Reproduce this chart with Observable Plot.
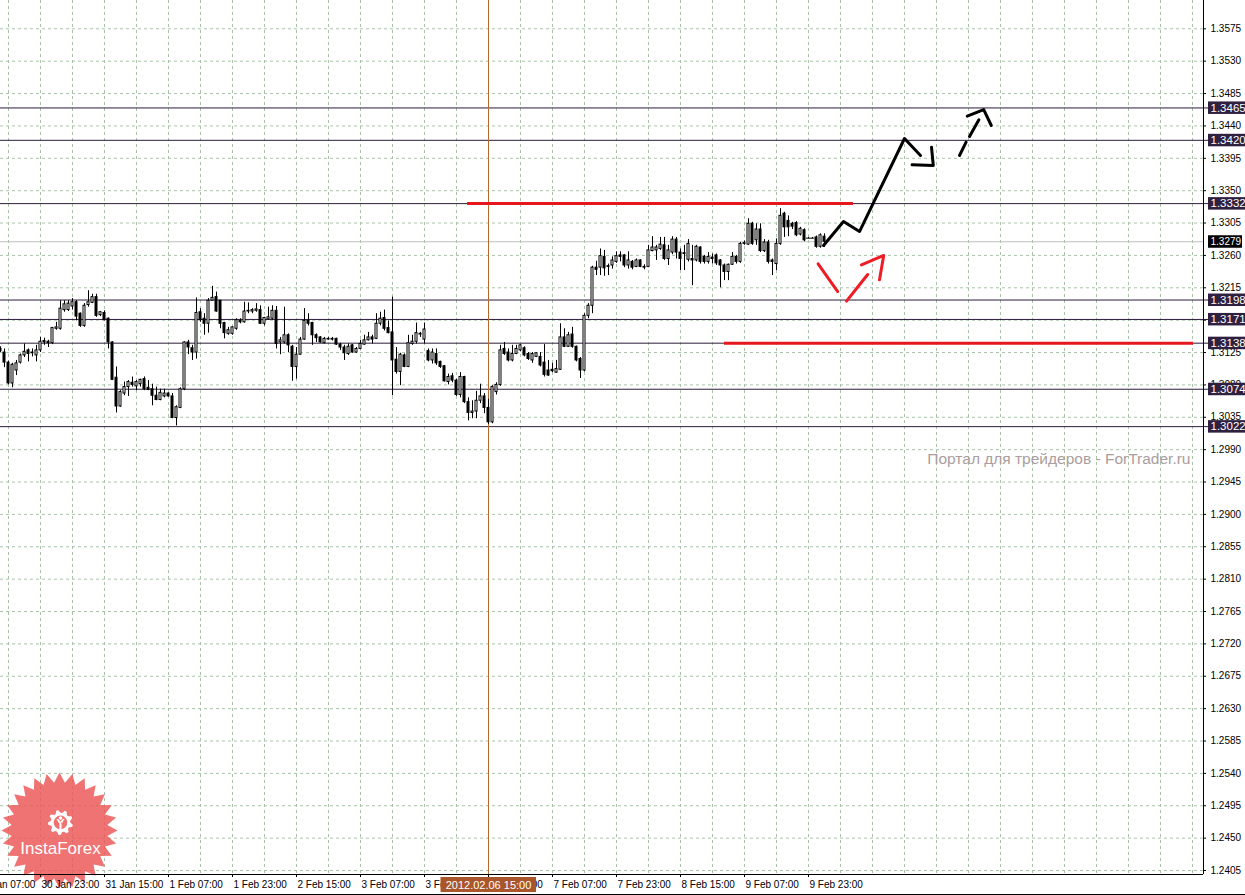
<!DOCTYPE html>
<html><head><meta charset="utf-8">
<script src="https://cdn.jsdelivr.net/npm/d3@7"></script>
<script src="https://cdn.jsdelivr.net/npm/@observablehq/plot@0.6"></script>
<style>html,body{margin:0;padding:0;background:#fff;overflow:hidden}#chart svg{display:block}</style>
</head><body><div id="chart"></div>
<script>
// ---- Data (EURUSD H1, prices in pips = price*10000), first candle index -10 (30 Jan 13:00) ----
const firstIndex = -10;
const openP = [13130,13125,13111,13082,13100,13111,13121,13128,13124,13121,
13128,13141,13140,13138,13158,13158,13184,13184,13189,13195,13179,13162,13191,13194,13202,13177,13180,13172,13139,13090,
13050,13068,13077,13083,13078,13081,13088,13076,13074,13065,13059,13064,13068,13064,13034,13048,13074,13139,13131,13125,
13181,13172,13165,13197,13202,13197,13166,13151,13151,13158,13169,13167,13182,13182,13183,13184,13165,13171,13172,13183,
13139,13139,13149,13133,13105,13122,13143,13169,13166,13149,13146,13138,13143,13144,13144,13136,13132,13123,13135,13125,
13130,13136,13142,13146,13144,13165,13173,13159,13153,13115,13098,13121,13105,13137,13140,13150,13143,13127,13114,13123,
13112,13106,13084,13092,13086,13066,13091,13056,13041,13043,13058,13064,13048,13028,13070,13080,13130,13125,13114,13123,
13128,13131,13123,13114,13119,13119,13111,13100,13101,13097,13101,13146,13133,13150,13133,13116,13100,13176,13190,13243,
13243,13258,13245,13246,13251,13260,13260,13246,13251,13244,13253,13244,13244,13266,13267,13269,13274,13255,13264,13282,
13264,13263,13254,13255,13253,13271,13258,13251,13257,13260,13253,13246,13237,13247,13258,13251,13276,13275,13304,13281,
13296,13266,13278,13253,13248,13276,13318,13308,13304,13305,13289,13295,13284,13284,13285,13272,13286];
const highP = [13133,13130,13113,13110,13114,13123,13137,13130,13130,13135,
13146,13145,13142,13160,13167,13197,13197,13197,13200,13197,13180,13193,13211,13206,13206,13182,13183,13173,13140,13105,
13072,13084,13086,13091,13086,13088,13091,13086,13081,13077,13074,13074,13069,13068,13051,13076,13140,13142,13135,13201,
13186,13179,13200,13217,13209,13197,13167,13160,13161,13172,13172,13195,13194,13186,13193,13190,13174,13188,13190,13189,
13146,13188,13151,13135,13132,13146,13186,13179,13167,13151,13147,13146,13146,13146,13145,13138,13135,13137,13136,13132,
13142,13149,13153,13149,13179,13181,13184,13169,13202,13132,13124,13123,13149,13149,13166,13153,13166,13130,13130,13130,
13113,13107,13095,13096,13088,13097,13092,13062,13058,13071,13081,13068,13060,13079,13083,13135,13139,13130,13135,13135,
13136,13133,13125,13125,13125,13125,13136,13114,13110,13114,13165,13158,13153,13160,13134,13118,13179,13193,13245,13252,
13269,13267,13248,13258,13265,13265,13261,13265,13253,13255,13254,13247,13274,13286,13274,13285,13285,13274,13286,13285,
13269,13274,13282,13274,13274,13272,13260,13264,13262,13262,13254,13248,13248,13264,13260,13278,13280,13311,13306,13304,
13304,13282,13281,13255,13283,13325,13320,13315,13306,13307,13299,13297,13285,13285,13287,13290,13290];
const lowP = [13125,13104,13080,13076,13093,13109,13118,13112,13119,13112,
13125,13135,13132,13136,13156,13156,13181,13182,13184,13169,13160,13160,13188,13193,13174,13175,13169,13130,13086,13041,
13049,13065,13064,13077,13072,13077,13072,13072,13051,13058,13058,13062,13063,13033,13023,13047,13072,13122,13114,13116,
13167,13149,13152,13197,13181,13158,13144,13149,13149,13156,13165,13166,13179,13179,13181,13164,13162,13170,13170,13130,
13122,13137,13125,13085,13088,13121,13142,13162,13135,13139,13138,13137,13142,13141,13135,13128,13114,13121,13124,13124,
13129,13135,13141,13137,13143,13162,13155,13151,13065,13095,13079,13104,13104,13135,13137,13146,13137,13112,13109,13107,
13103,13084,13080,13083,13064,13062,13054,13030,13033,13033,13054,13040,13025,13026,13066,13078,13121,13112,13112,13122,
13126,13119,13114,13110,13118,13105,13091,13092,13097,13096,13100,13132,13132,13131,13112,13089,13098,13172,13179,13232,
13232,13231,13232,13241,13249,13251,13243,13241,13240,13243,13243,13240,13243,13265,13253,13267,13253,13246,13261,13255,
13239,13239,13251,13218,13251,13248,13248,13248,13248,13246,13215,13225,13225,13246,13248,13249,13274,13274,13274,13274,
13264,13264,13248,13232,13239,13274,13285,13286,13296,13286,13287,13279,13283,13283,13270,13270,13271];
const closeP = [13127,13111,13082,13108,13110,13121,13126,13123,13125,13128,
13140,13139,13138,13159,13160,13186,13192,13193,13195,13175,13162,13190,13195,13202,13176,13181,13170,13139,13087,13050,
13070,13077,13084,13080,13084,13087,13074,13073,13065,13059,13069,13068,13064,13034,13049,13074,13139,13132,13125,13180,
13170,13165,13197,13201,13182,13165,13152,13156,13160,13170,13167,13182,13183,13184,13185,13165,13173,13174,13183,13137,
13142,13149,13135,13105,13122,13143,13169,13165,13149,13145,13139,13144,13144,13143,13136,13132,13124,13133,13125,13130,
13137,13142,13146,13143,13165,13172,13158,13152,13114,13098,13122,13105,13138,13140,13152,13151,13157,13114,13125,13110,
13105,13085,13091,13086,13066,13091,13056,13041,13043,13058,13064,13048,13028,13077,13080,13128,13123,13114,13123,13130,
13135,13121,13116,13123,13124,13107,13094,13093,13099,13102,13146,13133,13149,13133,13114,13100,13176,13190,13243,13240,
13259,13242,13244,13253,13259,13258,13246,13253,13243,13253,13244,13243,13267,13271,13271,13275,13255,13267,13282,13264,
13255,13262,13276,13253,13272,13251,13251,13258,13255,13249,13246,13237,13247,13258,13251,13276,13277,13304,13276,13296,
13266,13278,13251,13251,13276,13315,13299,13299,13300,13288,13297,13281,13284,13284,13272,13288,13279];

// axis ticks
const xTickIndex = [-16,0,16,32,48,64,80,96,112,128,144,160,176,192];
const xTickLabels = ["30 Jan 07:00","30 Jan 23:00","31 Jan 15:00","1 Feb 07:00","1 Feb 23:00","2 Feb 15:00","3 Feb 07:00","3 Feb 23:00","6 Feb 15:00","7 Feb 07:00","7 Feb 23:00","8 Feb 15:00","9 Feb 07:00","9 Feb 23:00"];
const yTickLabels = ["1.2405","1.2450","1.2495","1.2540","1.2585","1.2630","1.2675","1.2720","1.2765","1.2810","1.2855","1.2900","1.2945","1.2990","1.3035","1.3080","1.3125","1.3170","1.3215","1.3260","1.3305","1.3350","1.3395","1.3440","1.3485","1.3530","1.3575"];
const gridIndex = d3.range(-8, 290, 8);

// horizontal levels
const levels = [1.3465, 1.3420, 1.3332, 1.3198, 1.3171, 1.3138, 1.3074, 1.3022];
const currentPrice = 1.3279;
const crosshairIndex = 112;
const crosshairLabel = "2012.02.06 15:00";

// red support/resistance strokes
const redLevels = [1.3332, 1.3138];
const redFrom = [106.75, 171];
const redTo = [203.25, 288.25];

// hand-drawn forecast (index, price)
const blackSeg = ["a","a","a","a","a","b","b","b","c","c","d","d","e","e","e"];
const blackIdx = [195.75,200.75,204.75,216,220, 217.9,223.2,222.75, 229.75,231.4, 232.25,234.6, 231.7,235.8,237.7];
const blackPrice = [1.32738,1.33071,1.32932,1.34225,1.33989, 1.33860,1.33850,1.34104, 1.33989,1.34174, 1.34253,1.34485, 1.34535,1.34628,1.34406];
const redSeg = ["a","a","b","b","c","c","c"];
const redIdx = [194.4,199.3, 201.5,206.8, 205.25,210.8,209.75];
const redPrice = [1.32483,1.32098, 1.31964,1.32335, 1.32469,1.32599,1.32261];

const watermark = "Портал для трейдеров - ForTrader.ru";
const logoText = "InstaForex";

// ---- build tables ----
const candles = openP.map((o, k) => ({i: firstIndex + k, o: o/1e4, h: highP[k]/1e4, l: lowP[k]/1e4, c: closeP[k]/1e4}));
const bodies = candles.filter(d => d.o !== d.c);
const dojis = candles.filter(d => d.o === d.c);
const xTicks = xTickIndex.map((i, k) => ({i, label: xTickLabels[k]}));
const yTicks = yTickLabels.map(s => ({p: +s, label: s}));
const redLines = redLevels.map((p, k) => ({p, x1: redFrom[k], x2: redTo[k]}));
const blackPts = blackIdx.map((i, k) => ({i, p: blackPrice[k], s: blackSeg[k]}));
const redPts = redIdx.map((i, k) => ({i, p: redPrice[k], s: redSeg[k]}));

const W = 1245, H = 895, mR = 42, mB = 21;
const xDom = [-10, 290.75];
const yDom = [1.239944, 1.361435];
const pxPerUnit = (H - mB) / (yDom[1] - yDom[0]);
const px = v => v / pxPerUnit;           // pixels -> price units
const pxX = v => v / 4;                  // pixels -> index units
const yAxisP = yDom[0];
const gridColor = "#a9c3a9";
const levelColor = "#2c1b3a";
const boxColor = "#2f2040";

// logo symbols
const starburst = {draw(ctx, size) {
  const R = Math.sqrt(size / Math.PI), r = R * 0.83, n = 28;
  for (let k = 0; k < 2*n; k++) {
    const a = k * Math.PI / n - Math.PI/2, rr = k % 2 ? r : R;
    const x = rr*Math.cos(a), y = rr*Math.sin(a);
    if (k) ctx.lineTo(x, y); else ctx.moveTo(x, y);
  }
  ctx.closePath();
}};
const gear = {draw(ctx, size) {
  const R = Math.sqrt(size / Math.PI), ri = R*0.78, n = 9;
  for (let k = 0; k < 4*n; k++) {
    const a = k * 2*Math.PI/(4*n) + Math.PI/2, rr = (k % 4 < 2) ? R : ri;
    const x = rr*Math.cos(a), y = rr*Math.sin(a);
    if (k) ctx.lineTo(x, y); else ctx.moveTo(x, y);
  }
  ctx.closePath();
  const h = R*0.55;
  ctx.moveTo(h, 0); ctx.arc(0, 0, h, 0, 2*Math.PI, true); ctx.closePath();
}};
const figure = {draw(ctx, size) {
  const R = Math.sqrt(size / Math.PI);
  const hr = R*0.22;
  ctx.moveTo(hr, -R*0.55); ctx.arc(0, -R*0.55, hr, 0, 2*Math.PI); ctx.closePath();
  const t = R*0.13;
  ctx.moveTo(-t, -R*0.05); ctx.lineTo(t, -R*0.05); ctx.lineTo(t, R); ctx.lineTo(-t, R); ctx.closePath();
  ctx.moveTo(-R*0.5, -R*0.45); ctx.lineTo(-R*0.3, -R*0.45); ctx.lineTo(t, 0); ctx.lineTo(-t, R*0.15); ctx.closePath();
  ctx.moveTo(R*0.5, -R*0.45); ctx.lineTo(R*0.3, -R*0.45); ctx.lineTo(-t, 0); ctx.lineTo(t, R*0.15); ctx.closePath();
}};

const chart = Plot.plot({
  width: W, height: H,
  marginLeft: 0, marginRight: mR, marginTop: 0, marginBottom: mB,
  x: {domain: xDom, axis: null},
  y: {domain: yDom, axis: null},
  style: {background: "white", fontFamily: "'Liberation Sans', Arial, sans-serif", fontSize: "10px", color: "black"},
  marks: [
    // grid
    Plot.ruleX(gridIndex, {stroke: gridColor, strokeDasharray: "3,3"}),
    Plot.ruleY(yTicks, {y: "p", stroke: gridColor, strokeDasharray: "3,3"}),
    // logo (under axes)
    Plot.dot([{i: pxX(19), p: yAxisP + px(44)}], {x: "i", y: "p", r: 58, symbol: starburst, fill: "#ec5454", fillOpacity: 0.82, stroke: "none"}),
    Plot.dot([{i: pxX(20), p: yAxisP + px(52)}], {x: "i", y: "p", r: 12.5, symbol: gear, fill: "white", stroke: "none"}),
    Plot.dot([{i: pxX(20), p: yAxisP + px(52)}], {x: "i", y: "p", r: 8, symbol: figure, fill: "white", stroke: "none"}),
    Plot.text([logoText], {x: pxX(20), y: yAxisP + px(26), text: d => d, fill: "white", fontSize: 17, textAnchor: "middle"}),
    // current price line
    Plot.ruleY([currentPrice], {stroke: "#bdbdbd"}),
    // levels
    Plot.ruleY(levels, {x1: xDom[0], x2: xDom[1] + pxX(5), stroke: levelColor}),
    // crosshair
    Plot.ruleX([crosshairIndex], {stroke: "#b8692f"}),
    // red levels
    Plot.ruleY(redLines, {y: "p", x1: "x1", x2: "x2", stroke: "#e5161c", strokeWidth: 3}),
    // candles
    Plot.ruleX(candles, {x: "i", y1: "l", y2: "h", stroke: "black"}),
    Plot.rect(bodies, {x1: d => d.i - 0.25, x2: d => d.i + 0.25, y1: "o", y2: "c",
      fill: d => d.c > d.o ? "white" : "black", stroke: "black", strokeWidth: 1}),
    Plot.ruleY(dojis, {y: "o", x1: d => d.i - 0.5, x2: d => d.i + 0.5, stroke: "black"}),
    // hand-drawn forecast
    Plot.line(redPts, {x: "i", y: "p", z: "s", stroke: "#ee1c24", strokeWidth: 3, curve: "linear"}),
    Plot.line(blackPts, {x: "i", y: "p", z: "s", stroke: "black", strokeWidth: 3, curve: "linear"}),
    // watermark
    Plot.text([watermark], {x: pxX(1190 - 40), y: 1.2405 + px(870 - 459), text: d => d, textAnchor: "end", fill: "#a99d9d", fontSize: 15.5}),
    // axes lines
    Plot.ruleX([xDom[1]], {stroke: "black"}),
    Plot.ruleY([yAxisP], {x1: xDom[0], x2: xDom[1], stroke: "black"}),
    Plot.ruleY([yAxisP - px(20)], {x1: xDom[0], x2: xDom[1] + pxX(mR), stroke: "black"}),
    // y ticks & labels
    Plot.ruleY(yTicks, {y: "p", x1: xDom[1], x2: xDom[1] + pxX(3), stroke: "black"}),
    Plot.text(yTicks, {x: xDom[1], y: "p", text: "label", textAnchor: "start", dx: 7, fill: "black", fontSize: 10}),
    // x ticks & labels
    Plot.ruleX(xTicks, {x: "i", y1: yAxisP, y2: yAxisP - px(3), stroke: "black"}),
    Plot.text(xTicks, {x: "i", y: yAxisP - px(10), text: "label", textAnchor: "start", dx: 1, fill: "black", fontSize: 10}),
    // level boxes
    Plot.rect(levels, {x1: xDom[1] + pxX(5), x2: xDom[1] + pxX(mR), y1: d => d - px(6.5), y2: d => d + px(6), fill: boxColor}),
    Plot.text(levels, {x: xDom[1] + pxX(5), y: d => d, text: d => d.toFixed(4), textAnchor: "start", dx: 2, fill: "white", fontSize: 11.5}),
    Plot.rect([currentPrice], {x1: xDom[1] + pxX(5), x2: xDom[1] + pxX(mR - 3), y1: d => d - px(6.5), y2: d => d + px(6), fill: "black"}),
    Plot.text([currentPrice], {x: xDom[1] + pxX(5), y: d => d, text: d => d.toFixed(4), textAnchor: "start", dx: 2, fill: "white", fontSize: 10}),
    // crosshair label
    Plot.rect([crosshairIndex], {x1: d => d - pxX(47.5), x2: d => d + pxX(48), y1: yAxisP - px(3), y2: yAxisP - px(18), fill: "#a9562a"}),
    Plot.text([crosshairLabel], {x: crosshairIndex, y: yAxisP - px(10.5), text: d => d, textAnchor: "middle", fill: "white", fontSize: 11})
  ]
});
document.getElementById("chart").appendChild(chart);
</script>
</body></html>
